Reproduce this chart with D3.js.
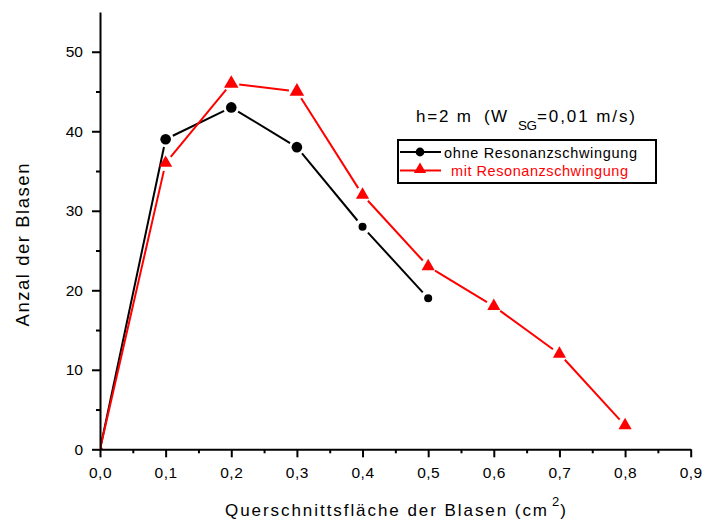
<!DOCTYPE html>
<html>
<head>
<meta charset="utf-8">
<script src="https://cdn.jsdelivr.net/npm/d3@7"></script>
<style>
  html, body { margin: 0; padding: 0; background: #fff; }
  svg { display: block; font-family: "Liberation Sans", Arial, sans-serif; }
</style>
</head>
<body>
<svg id="chart" width="703" height="523"></svg>
<script>
// ---- data ----
const xValues = [0, 0.1, 0.2, 0.3, 0.4, 0.5, 0.6, 0.7, 0.8];
const ohneValues = [0, 39, 43, 38, 28, 19];
const mitValues = [0, 36, 46, 45, 32, 23, 18, 12, 3];
const xTicks = [0, 0.1, 0.2, 0.3, 0.4, 0.5, 0.6, 0.7, 0.8, 0.9];
const xTickLabels = ["0,0", "0,1", "0,2", "0,3", "0,4", "0,5", "0,6", "0,7", "0,8", "0,9"];
const yTicks = [0, 10, 20, 30, 40, 50];
const yTickLabels = ["0", "10", "20", "30", "40", "50"];
const seriesNames = ["ohne Resonanzschwingung", "mit Resonanzschwingung"];

// ---- layout ----
const svg = d3.select("#chart");
const x = d3.scaleLinear().domain([0, 0.9]).range([100, 690.7]);
const y = d3.scaleLinear().domain([0, 55]).range([449.3, 12]);

svg.append("defs").append("clipPath").attr("id", "plotclip")
  .append("rect").attr("x", x(0)).attr("y", 0).attr("width", x(0.9) - x(0) + 10).attr("height", y(0));

const series = [
  { name: seriesNames[0], values: ohneValues, color: "#000000", shape: "circle" },
  { name: seriesNames[1], values: mitValues, color: "#ff0000", shape: "triangle" }
];

function markerGap(s, i) {
  if (i === 0) return 0;
  return 8;
}

const plot = svg.append("g").attr("clip-path", "url(#plotclip)");

series.forEach(s => {
  const pts = s.values.map((v, i) => [x(xValues[i]), y(v)]);
  for (let i = 0; i < pts.length - 1; i++) {
    const [x1, y1] = pts[i], [x2, y2] = pts[i + 1];
    const dx = x2 - x1, dy = y2 - y1, len = Math.hypot(dx, dy);
    const g1 = markerGap(s, i), g2 = markerGap(s, i + 1);
    plot.append("line")
      .attr("x1", x1 + dx * g1 / len).attr("y1", y1 + dy * g1 / len)
      .attr("x2", x2 - dx * g2 / len).attr("y2", y2 - dy * g2 / len)
      .attr("stroke", s.color).attr("stroke-width", 2);
  }
  pts.forEach((p, i) => {
    if (s.shape === "circle") {
      if (i === 0) return;
      const r = i <= 3 ? 5.3 : 4;
      plot.append("circle").attr("cx", p[0]).attr("cy", p[1]).attr("r", r).attr("fill", s.color);
    } else {
      const size = i === 0 ? 40 : (i === 2 || i === 3 ? 92 : 75);
      plot.append("path")
        .attr("d", d3.symbol().type(d3.symbolTriangle).size(size)())
        .attr("transform", `translate(${p[0]},${p[1]})`)
        .attr("fill", s.color);
    }
  });
});

// ---- axes ----
const fmtX = d => xTickLabels[xTicks.findIndex(t => Math.abs(t - d) < 1e-9)];
const fmtY = d => yTickLabels[yTicks.indexOf(d)];

const xAxisG = svg.append("g").attr("transform", `translate(0,${y(0)})`)
  .call(d3.axisBottom(x).tickValues(xTicks).tickFormat(fmtX).tickSize(8).tickSizeOuter(0).tickPadding(6));
const xMinor = svg.append("g").attr("transform", `translate(0,${y(0)})`)
  .call(d3.axisBottom(x).tickValues(d3.range(0.05, 0.9, 0.1)).tickFormat("").tickSize(4).tickSizeOuter(0));
const yAxisG = svg.append("g").attr("transform", `translate(${x(0)},0)`)
  .call(d3.axisLeft(y).tickValues(yTicks).tickFormat(fmtY).tickSize(8).tickSizeOuter(0).tickPadding(9));
const yMinor = svg.append("g").attr("transform", `translate(${x(0)},0)`)
  .call(d3.axisLeft(y).tickValues(d3.range(5, 55, 10)).tickFormat("").tickSize(4).tickSizeOuter(0));

[xAxisG, xMinor, yAxisG, yMinor].forEach(g => {
  g.selectAll("path.domain").attr("stroke", "#000").attr("stroke-width", 2);
  g.selectAll(".tick line").attr("stroke", "#000").attr("stroke-width", 2);
  g.selectAll(".tick text").attr("fill", "#000").attr("font-size", 15.5)
    .attr("font-family", "Liberation Sans, Arial, sans-serif");
});
xMinor.select("path.domain").remove();
yMinor.select("path.domain").remove();
xAxisG.selectAll(".tick text").attr("dy", "0.95em").attr("letter-spacing", 0.5);

// ---- axis titles ----
const xt = svg.append("text").attr("x", 225).attr("y", 516).attr("font-size", 17).attr("fill", "#000");
xt.append("tspan").text("Querschnittsfläche der Blasen (cm").attr("textLength", 322).attr("lengthAdjust", "spacing");
xt.append("tspan").attr("dy", -10).attr("font-size", 13).attr("dx", 3).text("2");
xt.append("tspan").attr("dy", 10).attr("font-size", 17).attr("dx", 1).text(")");

svg.append("text")
  .attr("transform", "translate(29,245) rotate(-90)")
  .attr("text-anchor", "middle").attr("font-size", 18.5).attr("fill", "#000")
  .attr("textLength", 163).attr("lengthAdjust", "spacing")
  .text("Anzal der Blasen");

// ---- legend ----
const lt = svg.append("text").attr("y", 122).attr("font-size", 17).attr("fill", "#000");
lt.append("tspan").attr("x", 416).text("h=2 m").attr("textLength", 55).attr("lengthAdjust", "spacing");
lt.append("tspan").attr("x", 484).text("(W").attr("textLength", 23).attr("lengthAdjust", "spacing");
lt.append("tspan").attr("x", 518).attr("y", 129.5).attr("font-size", 13.5).text("SG")
  .attr("textLength", 19).attr("lengthAdjust", "spacing");
lt.append("tspan").attr("x", 537).attr("y", 122).attr("font-size", 17).text("=0,01 m/s)")
  .attr("textLength", 98).attr("lengthAdjust", "spacing");

svg.append("rect").attr("x", 398).attr("y", 140).attr("width", 258).attr("height", 43)
  .attr("fill", "none").attr("stroke", "#000").attr("stroke-width", 2);

const legRows = [
  { s: series[0], yy: 152, tx: 444, len: 193 },
  { s: series[1], yy: 170.5, tx: 451, len: 177 }
];
legRows.forEach(r => {
  svg.append("line").attr("x1", 400).attr("x2", 441).attr("y1", r.yy).attr("y2", r.yy)
    .attr("stroke", r.s.color).attr("stroke-width", 2);
  if (r.s.shape === "circle") {
    svg.append("circle").attr("cx", 420).attr("cy", r.yy).attr("r", 4.4).attr("fill", r.s.color);
  } else {
    svg.append("path").attr("d", d3.symbol().type(d3.symbolTriangle).size(65)())
      .attr("transform", `translate(420,${r.yy - 1})`).attr("fill", r.s.color);
  }
  svg.append("text").attr("x", r.tx).attr("y", r.yy + 5.5).attr("font-size", 14.5)
    .attr("fill", r.s.color).attr("textLength", r.len).attr("lengthAdjust", "spacing")
    .text(r.s.name);
});
</script>
</body>
</html>
